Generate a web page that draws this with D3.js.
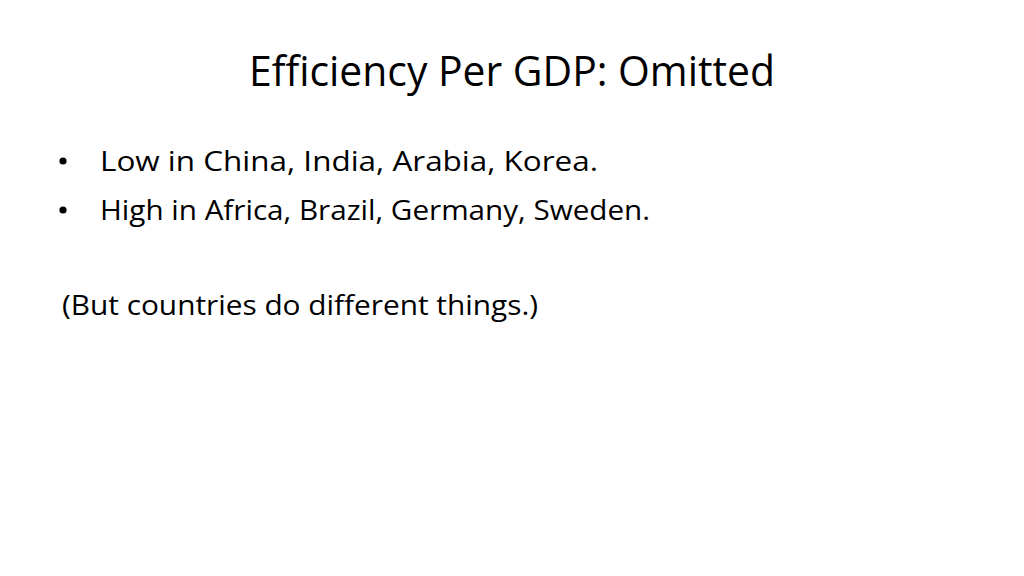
<!DOCTYPE html>
<html>
<head>
<meta charset="utf-8">
<script src="https://cdn.jsdelivr.net/npm/d3@7"></script>
<style>
  html, body { margin: 0; padding: 0; background: #fff; }
  svg { display: block; }
</style>
</head>
<body>
<div id="slide"></div>
<script>
// Slide content
const titleText = 'Efficiency Per GDP: Omitted';
const bulletItems = ['Low in China, India, Arabia, Korea.', 'High in Africa, Brazil, Germany, Sweden.'];
const noteLines = ['(But countries do different things.)'];

const width = 1024;
const height = 576;
const font = '"Open Sans", "DejaVu Sans", sans-serif';

const svg = d3.select('#slide')
    .append('svg')
    .attr('width', width)
    .attr('height', height);

svg.append('rect')
    .attr('width', width)
    .attr('height', height)
    .attr('fill', '#ffffff');

// Title (centred)
svg.append('text')
    .attr('x', 512)
    .attr('y', 86)
    .attr('text-anchor', 'middle')
    .attr('font-family', font)
    .attr('font-size', 42)
    .attr('fill', '#000')
    .attr('textLength', 526)
    .attr('lengthAdjust', 'spacingAndGlyphs')
    .text(titleText);

// Bullet rows
const bulletY = d3.scalePoint()
    .domain(bulletItems)
    .range([171, 220]);

const bulletWidths = [498, 550];

const rows = svg.selectAll('.bullet')
    .data(bulletItems)
    .enter()
    .append('g')
    .attr('class', 'bullet')
    .attr('transform', d => `translate(0,${bulletY(d)})`);

rows.append('circle')
    .attr('cx', 63)
    .attr('cy', -10)
    .attr('r', 3.6)
    .attr('fill', '#000');

rows.append('text')
    .attr('x', 100)
    .attr('y', 0)
    .attr('font-family', font)
    .attr('font-size', 28)
    .attr('fill', '#000')
    .attr('textLength', (d, i) => bulletWidths[i])
    .attr('lengthAdjust', 'spacingAndGlyphs')
    .text(d => d);

// Closing note
svg.selectAll('.note')
    .data(noteLines)
    .enter()
    .append('text')
    .attr('class', 'note')
    .attr('x', 62)
    .attr('y', 315)
    .attr('font-family', font)
    .attr('font-size', 28)
    .attr('fill', '#000')
    .attr('textLength', 476)
    .attr('lengthAdjust', 'spacingAndGlyphs')
    .text(d => d);
</script>
</body>
</html>
